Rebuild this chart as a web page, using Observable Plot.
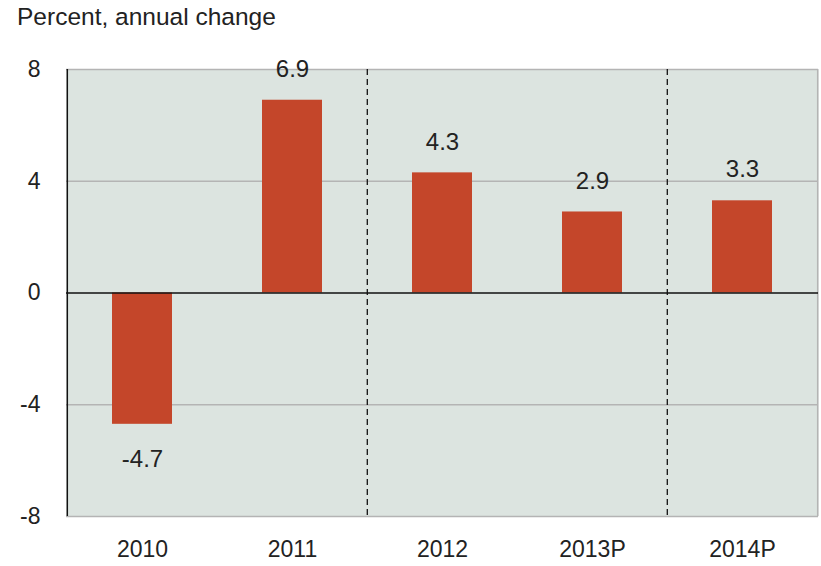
<!DOCTYPE html>
<html>
<head>
<meta charset="utf-8">
<script src="https://cdn.jsdelivr.net/npm/d3@7"></script>
<script src="https://cdn.jsdelivr.net/npm/@observablehq/plot@0.6"></script>
<style>
  body { margin: 0; background: #fff; font-family: "Liberation Sans", Arial, sans-serif; }
  #wrap { position: relative; width: 821px; height: 566px; }
  #title { position: absolute; left: 17px; top: 3px; font-size: 24.5px; color: #222; }
  #chart { position: absolute; left: 0; top: 0; }
</style>
</head>
<body>
<div id="wrap">
  <div id="chart"></div>
  <div id="title">Percent, annual change</div>
</div>
<script>
const years = ["2010", "2011", "2012", "2013P", "2014P"];
const values = [-4.7, 6.9, 4.3, 2.9, 3.3];
const yTicks = [-8, -4, 0, 4, 8];
const gridTicks = [-8, -4, 4, 8];
const dividers = ["2012", "2014P"];

const data = years.map((y, i) => ({year: y, value: values[i]}));

const W = 821, H = 566, mL = 66, mR = 3, mT = 69, mB = 50;
const step = (W - mL - mR) / years.length;

const chart = Plot.plot({
  width: W,
  height: H,
  marginLeft: mL,
  marginRight: mR,
  marginTop: mT,
  marginBottom: mB,
  style: {fontFamily: "'Liberation Sans', Arial, sans-serif", fontSize: "23px", color: "#222", background: "transparent"},
  x: {domain: years, paddingInner: 0.6, paddingOuter: 0.3, align: 0.5, label: null, tickSize: 0, tickPadding: 24},
  y: {domain: [-8, 8], ticks: yTicks, label: null, tickSize: 0, tickPadding: 26, tickFormat: d => d},
  marks: [
    Plot.frame({fill: "#dce4e0", stroke: null}),
    Plot.ruleY(gridTicks, {stroke: "#b4b4b4", strokeWidth: 1.5}),
    Plot.ruleX([years[years.length - 1]], {dx: step / 2, stroke: "#b4b4b4", strokeWidth: 1.5}),
    Plot.ruleX(dividers, {dx: -step / 2, stroke: "#111", strokeWidth: 1.3, strokeDasharray: "6,4"}),
    Plot.barY(data, {x: "year", y: "value", fill: "#c4462a"}),
    Plot.ruleY([0], {stroke: "#111", strokeWidth: 1.5}),
    Plot.ruleX([years[0]], {dx: -step / 2, stroke: "#111", strokeWidth: 1.5}),
    Plot.text(data.filter(d => d.value >= 0), {x: "year", y: "value", text: d => d.value.toFixed(1), dy: -31, fontSize: 24, fill: "#222"}),
    Plot.text(data.filter(d => d.value < 0), {x: "year", y: "value", text: d => d.value.toFixed(1), dy: 35, fontSize: 24, fill: "#222"})
  ]
});
document.getElementById("chart").appendChild(chart);
</script>
</body>
</html>
